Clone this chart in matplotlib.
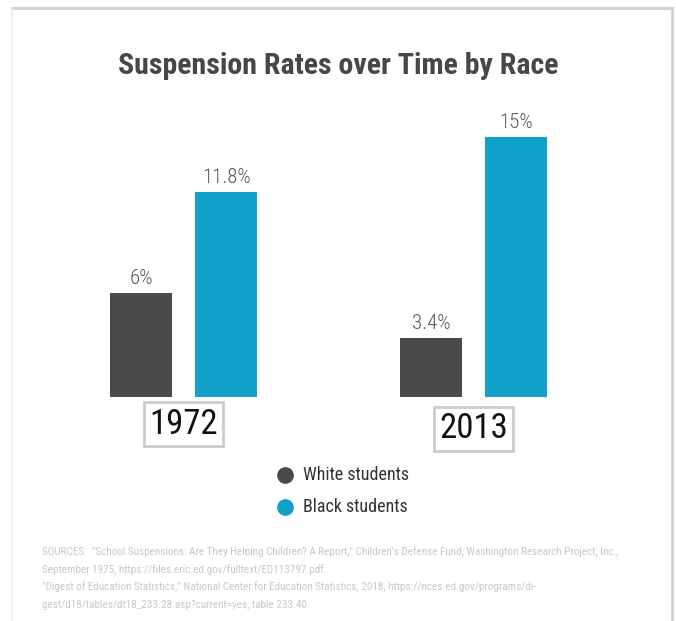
import matplotlib
matplotlib.use("Agg")
import numpy as np
import matplotlib.pyplot as plt
from matplotlib import font_manager
from matplotlib.lines import Line2D

# Data
years = ["1972", "2013"]
groups = ["White students", "Black students"]
white_rates = [6.0, 3.4]
black_rates = [11.8, 15.0]
white_labels = ["6%", "3.4%"]
black_labels = ["11.8%", "15%"]
sources = [
    'SOURCES:  "School Suspensions: Are They Helping Children? A Report," Children\'s Defense Fund, Washington Research Project, Inc.,',
    "September 1975, https://files.eric.ed.gov/fulltext/ED113797.pdf.",
    '"Digest of Education Statistics," National Center for Education Statistics, 2018, https://nces.ed.gov/programs/di-',
    "gest/d18/tables/dt18_233.28.asp?current=yes, table 233.40.",
]

WHITE_COLOR = "#4a4a4a"
BLACK_COLOR = "#10a0c8"

# Pick a condensed face if one is around
installed = {f.name for f in font_manager.fontManager.ttflist}
FONT = next(
    (n for n in ["Roboto Condensed", "Liberation Sans Narrow"] if n in installed),
    "DejaVu Sans",
)

W, H = 676, 621
fig = plt.figure(figsize=(W / 100, H / 100), dpi=100)


def fx(px):
    return px / W


def fy(py):
    return 1 - py / H


# Card border
fig.add_artist(Line2D([fx(12), fx(672)], [fy(8), fy(8)], color="#d2d2d2", lw=2.2))
fig.add_artist(Line2D([fx(12), fx(12)], [fy(8), 0], color="#ececec", lw=1.2))
fig.add_artist(Line2D([fx(672), fx(672)], [fy(8), 0], color="#d2d2d2", lw=2.0))

fig.text(fx(338), fy(74), "Suspension Rates over Time by Race", ha="center",
         va="baseline", fontsize=21.5, fontweight="bold", color="#474747",
         family=FONT, fontstretch="condensed")

# Bars
ax = fig.add_axes([0, fy(397), 1, 260 / H])
ax.set_xlim(-0.633, 1.698)
ax.set_ylim(0, 15)
ax.axis("off")

x = np.arange(len(years))
width = 0.214
off = 0.1466
ax.bar(x - off, white_rates, width, color=WHITE_COLOR)
ax.bar(x + off, black_rates, width, color=BLACK_COLOR)

for xi, val, lab in zip(x - off, white_rates, white_labels):
    ax.annotate(lab, (xi, val), xytext=(0, 9), textcoords="offset pixels",
                ha="center", va="baseline", fontsize=15, color="#555555",
                family=FONT, fontweight="light", annotation_clip=False)
for xi, val, lab in zip(x + off, black_rates, black_labels):
    ax.annotate(lab, (xi, val), xytext=(0, 9), textcoords="offset pixels",
                ha="center", va="baseline", fontsize=15, color="#555555",
                family=FONT, fontweight="light", annotation_clip=False)

# Year boxes under each group
year_drop = [-27, -32]
for xi, yr, dy in zip(x, years, year_drop):
    ax.annotate(yr, (xi, 0), xytext=(0, dy), textcoords="offset pixels",
                ha="center", va="center", fontsize=25, color="#111111",
                family=FONT, annotation_clip=False,
                bbox=dict(boxstyle="square,pad=0.15", fc="white",
                          ec="#cccccc", lw=2))

# Legend
for i, (name, col) in enumerate(zip(groups, [WHITE_COLOR, BLACK_COLOR])):
    ly = 475 + i * 32
    fig.add_artist(Line2D([fx(285)], [fy(ly)], marker="o", markersize=11,
                          color=col, lw=0))
    fig.text(fx(303), fy(ly), name, ha="left", va="center", fontsize=13,
             color="#333333", family=FONT)

# Sources
for i, line in enumerate(sources):
    fig.text(fx(42), fy(552 + i * 17.5), line, ha="left", va="center",
             fontsize=8, color="#c8c8c8", family=FONT)

fig.savefig("out.png", dpi=100, facecolor="white")
